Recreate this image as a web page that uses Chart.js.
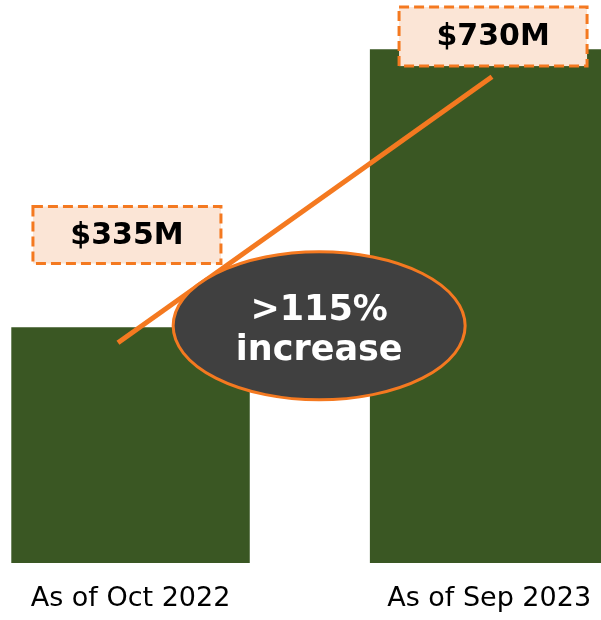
<!DOCTYPE html>
<html>
<head>
<meta charset="utf-8">
<script src="https://cdn.jsdelivr.net/npm/chart.js@4.4.0/dist/chart.umd.min.js"></script>
<style>
  body { margin: 0; background: #fff; }
  #wrap { width: 601px; height: 620px; position: relative; }
</style>
</head>
<body>
<div id="wrap"><canvas id="growth"></canvas></div>
<script>
// data
const categories = ["As of Oct 2022", "As of Sep 2023"];
const aumValues = [335, 730]; // $M
const valueLabels = ["$335M", "$730M"];
const trendX = [-0.035, 1.008];
const trendY = [313, 691];
const increaseText = [">115%", "increase"];

const GREEN = "#3A5723";
const ORANGE = "#F47920";
const PEACH = "#FBE5D6";

// callouts placed in data units so they follow the scales
const callouts = [
  { x: -0.01, y: 466, w: 188, h: 57, text: valueLabels[0] },
  { x: 1.011, y: 748, w: 188, h: 59, text: valueLabels[1] },
];
const bubble = { x: 0.526, y: 337, rx: 146, ry: 74 };

const calloutPlugin = {
  id: "callouts",
  afterDatasetsDraw(chart) {
    const { ctx, scales } = chart;
    const xs = scales.x, ys = scales.y;
    ctx.save();

    // ellipse with the increase text
    const cx = xs.getPixelForValue(bubble.x);
    const cy = ys.getPixelForValue(bubble.y);
    ctx.beginPath();
    ctx.ellipse(cx, cy, bubble.rx, bubble.ry, 0, 0, Math.PI * 2);
    ctx.fillStyle = "#404040";
    ctx.fill();
    ctx.lineWidth = 3;
    ctx.strokeStyle = ORANGE;
    ctx.stroke();
    ctx.fillStyle = "#fff";
    ctx.font = "bold 35px 'DejaVu Sans'";
    ctx.textAlign = "center";
    ctx.textBaseline = "alphabetic";
    ctx.fillText(increaseText[0], cx, cy - 6);
    ctx.fillText(increaseText[1], cx, cy + 34);

    // dashed value boxes
    callouts.forEach((c) => {
      const px = xs.getPixelForValue(c.x);
      const py = ys.getPixelForValue(c.y);
      const left = px - c.w / 2, top = py - c.h / 2;
      ctx.fillStyle = PEACH;
      ctx.fillRect(left, top, c.w, c.h);
      ctx.setLineDash([10, 5]);
      ctx.lineWidth = 3;
      ctx.strokeStyle = ORANGE;
      ctx.strokeRect(left, top, c.w, c.h);
      ctx.setLineDash([]);
      ctx.fillStyle = "#000";
      ctx.font = "bold 30px 'DejaVu Sans'";
      ctx.textBaseline = "middle";
      ctx.fillText(c.text, px, py + 1);
    });
    ctx.restore();
  },
};

new Chart(document.getElementById("growth"), {
  data: {
    datasets: [
      {
        type: "line",
        data: trendX.map((x, i) => ({ x: x, y: trendY[i] })),
        borderColor: ORANGE,
        borderWidth: 5,
        pointRadius: 0,
        fill: false,
        order: 1,
      },
      {
        type: "bar",
        data: aumValues.map((v, i) => ({ x: i, y: v })),
        backgroundColor: GREEN,
        borderWidth: 0,
        barPercentage: 0.665,
        categoryPercentage: 1,
        order: 2,
      },
    ],
  },
  options: {
    responsive: true,
    maintainAspectRatio: false,
    animation: false,
    layout: { padding: { left: 0, right: 0, top: 0, bottom: 4 } },
    plugins: { legend: { display: false }, tooltip: { enabled: false } },
    scales: {
      x: {
        type: "linear",
        offset: false,
        min: -0.364,
        max: 1.312,
        grid: { display: false, drawTicks: false },
        border: { display: false },
        afterBuildTicks: (scale) => {
          scale.ticks = categories.map((_, i) => ({ value: i }));
        },
        afterFit: (scale) => {
          scale.height = 53;
          scale.paddingLeft = 0;
          scale.paddingRight = 0;
        },
        ticks: {
          autoSkip: false,
          maxRotation: 0,
          padding: 20,
          color: "#000",
          font: { family: "'DejaVu Sans'", size: 27 },
          callback: (v) => categories[v],
        },
      },
      y: {
        display: false,
        min: 0,
        max: 800,
      },
    },
  },
  plugins: [calloutPlugin],
});
</script>
</body>
</html>
